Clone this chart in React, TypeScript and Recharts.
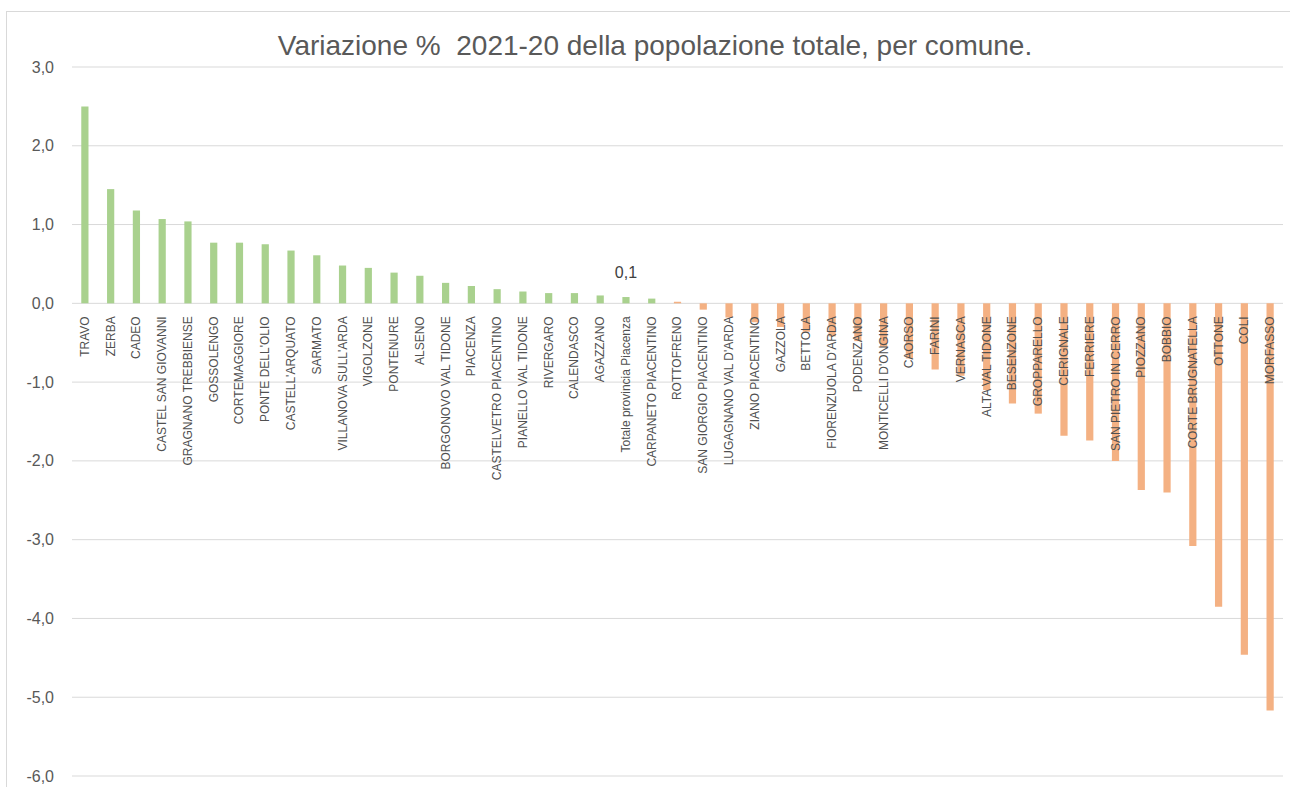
import React from 'react';
import { BarChart, Bar, XAxis, YAxis, CartesianGrid, Cell, LabelList } from 'recharts';

const comuni = [
  'TRAVO', 'ZERBA', 'CADEO', 'CASTEL SAN GIOVANNI', 'GRAGNANO TREBBIENSE', 'GOSSOLENGO',
  'CORTEMAGGIORE', "PONTE DELL'OLIO", "CASTELL'ARQUATO", 'SARMATO', "VILLANOVA SULL'ARDA",
  'VIGOLZONE', 'PONTENURE', 'ALSENO', 'BORGONOVO VAL TIDONE', 'PIACENZA',
  'CASTELVETRO PIACENTINO', 'PIANELLO VAL TIDONE', 'RIVERGARO', 'CALENDASCO', 'AGAZZANO',
  'Totale provincia Piacenza', 'CARPANETO PIACENTINO', 'ROTTOFRENO', 'SAN GIORGIO PIACENTINO',
  "LUGAGNANO VAL D'ARDA", 'ZIANO PIACENTINO', 'GAZZOLA', 'BETTOLA', "FIORENZUOLA D'ARDA",
  'PODENZANO', "MONTICELLI D'ONGINA", 'CAORSO', 'FARINI', 'VERNASCA', 'ALTA VAL TIDONE',
  'BESENZONE', 'GROPPARELLO', 'CERIGNALE', 'FERRIERE', 'SAN PIETRO IN CERRO', 'PIOZZANO',
  'BOBBIO', 'CORTE BRUGNATELLA', 'OTTONE', 'COLI', 'MORFASSO',
];

const variazione = [
  2.5, 1.45, 1.18, 1.07, 1.04, 0.77,
  0.77, 0.75, 0.67, 0.61, 0.48,
  0.45, 0.39, 0.35, 0.26, 0.22,
  0.18, 0.15, 0.13, 0.13, 0.1,
  0.08, 0.06, 0.02, -0.08,
  -0.18, -0.24, -0.3, -0.36, -0.42,
  -0.48, -0.55, -0.7, -0.84, -0.92, -1.1,
  -1.27, -1.4, -1.68, -1.74, -2.0, -2.37,
  -2.4, -3.08, -3.85, -4.46, -5.17,
];

const yTicks = [3, 2, 1, 0, -1, -2, -3, -4, -5, -6];
const TOTAL_INDEX = 21;
const TOTAL_LABEL = '0,1';

const GREEN = '#a9d18e';
const ORANGE = '#f4b183';
const TEXT = '#595959';
const FONT = 'Liberation Sans, Arial, sans-serif';

const data = comuni.map((name, i) => ({ name, value: variazione[i] }));

// plot box
const W = 1290;
const H = 787;
const TOP = 67;
const BOTTOM = 11;
const LEFT = 72;
const RIGHT = 7;
const zeroY = TOP + ((H - TOP - BOTTOM) * 3) / 9;

const fmt = (v: number) => v.toFixed(1).replace('.', ',');

function renderCategoryTick(props: any) {
  const { x, payload } = props;
  const y = zeroY + 13;
  return (
    <text
      x={x}
      y={y}
      transform={`rotate(-90, ${x}, ${y})`}
      textAnchor="end"
      dominantBaseline="central"
      fontSize={12}
      fill="#505050"
      fontFamily={FONT}
    >
      {payload.value}
    </text>
  );
}

function renderValueTick(props: any) {
  const { y, payload } = props;
  return (
    <text x={54} y={y} textAnchor="end" dominantBaseline="central" fontSize={16} fill={TEXT} fontFamily={FONT}>
      {fmt(payload.value)}
    </text>
  );
}

function TotalLabel(props: any) {
  const { x, y, width, index } = props;
  if (index !== TOTAL_INDEX) return null;
  return (
    <text x={x + width / 2} y={y - 19} textAnchor="middle" fontSize={16} fill="#404040" fontFamily={FONT}>
      {TOTAL_LABEL}
    </text>
  );
}

export default function App() {
  return (
    <div style={{ position: 'absolute', left: 0, top: 0, width: W, height: H, background: '#fff', overflow: 'hidden' }}>
      <div style={{
        position: 'absolute', left: 6, top: 11, width: W, height: H,
        border: '1px solid #d9d9d9', boxSizing: 'border-box',
      }} />
      <div style={{
        position: 'absolute', left: 0, top: 30, width: 1310, textAlign: 'center',
        fontFamily: FONT, fontSize: 28, color: TEXT, whiteSpace: 'pre',
      }}>
        {'Variazione %  2021-20 della popolazione totale, per comune.'}
      </div>
      <div style={{ position: 'absolute', left: 0, top: 0 }}>
        <BarChart width={W} height={H} data={data}
          margin={{ top: TOP, right: RIGHT, bottom: BOTTOM - 1, left: 0 }} barCategoryGap="64%">
          <CartesianGrid vertical={false} stroke="#d9d9d9" />
          <YAxis
            width={LEFT}
            domain={[-6, 3]}
            ticks={yTicks}
            axisLine={false}
            tickLine={false}
            tick={renderValueTick}
            interval={0}
          />
          <Bar dataKey="value" isAnimationActive={false}>
            {data.map((d, i) => (
              <Cell key={i} fill={i < 23 ? GREEN : ORANGE} />
            ))}
            <LabelList dataKey="value" content={<TotalLabel />} />
          </Bar>
          <XAxis
            dataKey="name"
            height={1}
            axisLine={false}
            tickLine={false}
            interval={0}
            tick={renderCategoryTick}
          />
        </BarChart>
      </div>
    </div>
  );
}
